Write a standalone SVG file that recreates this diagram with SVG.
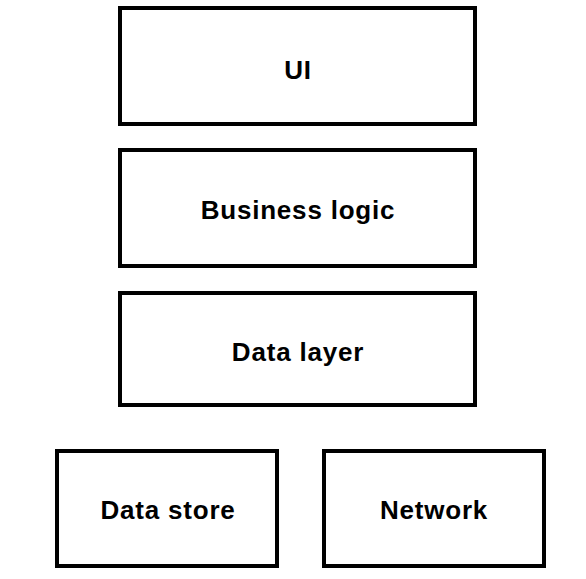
<svg xmlns="http://www.w3.org/2000/svg" width="586" height="579" viewBox="0 0 586 579">
<style>
.box{fill:#fff;stroke:#000;stroke-width:4}
.lbl{font-family:"Liberation Sans",Arial,sans-serif;font-weight:bold;font-size:26px;fill:#000;text-anchor:middle;letter-spacing:0.8px}
</style>
<rect width="586" height="579" fill="#fff"/>
<g id="connectors"></g>
<g id="ui"><rect class="box" x="120" y="8" width="355" height="116"/><text class="lbl" x="298" y="79">UI</text></g>
<g id="business-logic"><rect class="box" x="120" y="150" width="355" height="116"/><text class="lbl" x="298" y="219">Business logic</text></g>
<g id="data-layer"><rect class="box" x="120" y="293" width="355" height="112"/><text class="lbl" x="298" y="361">Data layer</text></g>
<g id="data-store"><rect class="box" x="57" y="451" width="220" height="115"/><text class="lbl" x="168" y="519">Data store</text></g>
<g id="network"><rect class="box" x="324" y="451" width="220" height="115"/><text class="lbl" x="434" y="519">Network</text></g>
</svg>
